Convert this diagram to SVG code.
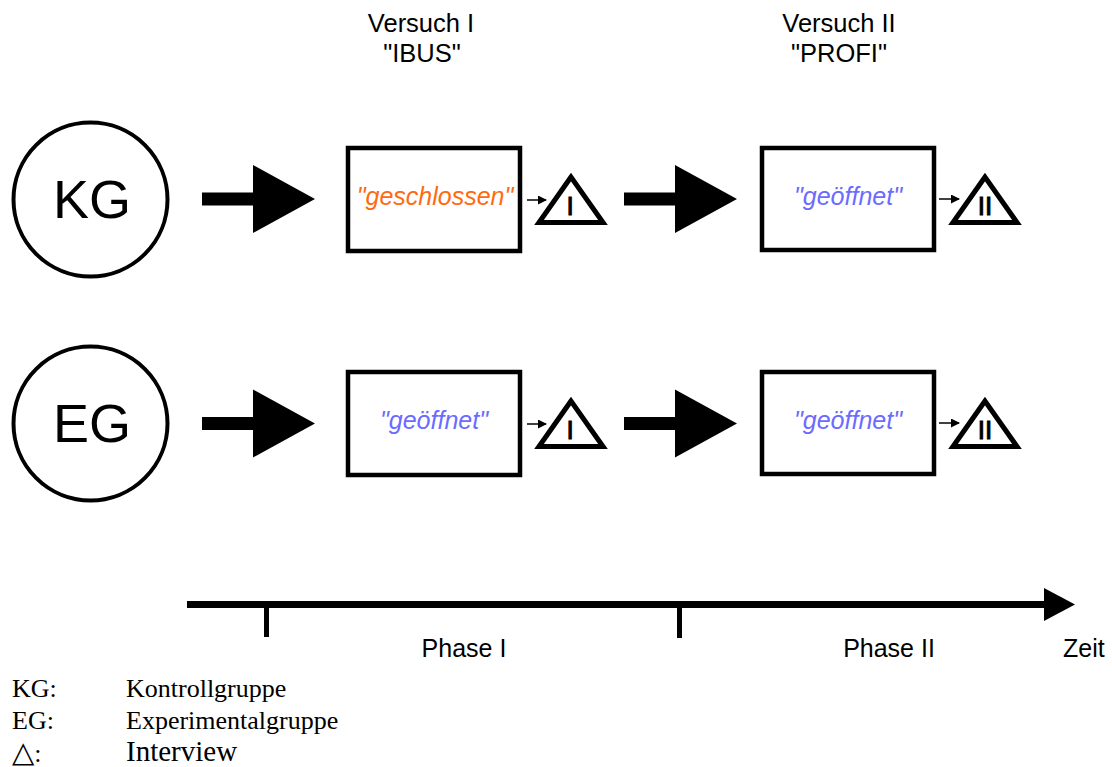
<svg xmlns="http://www.w3.org/2000/svg" width="1112" height="767" viewBox="0 0 1112 767">
  <defs>
    <marker id="tip" markerWidth="9" markerHeight="9" refX="8" refY="4.5" orient="auto" markerUnits="userSpaceOnUse">
      <path d="M0,0 L9,4.5 L0,9 Z" fill="#000"/>
    </marker>
    <!-- big block arrow, drawn with its left end at the origin -->
    <path id="block" d="M0,-6.5 L51,-6.5 L51,-34 L113,0 L51,34 L51,6.5 L0,6.5 Z" fill="#000"/>
  </defs>
  <style>
    .sans { font-family: "Liberation Sans", Arial, sans-serif; fill: #000; }
    .serif { font-family: "Liberation Serif", "Times New Roman", "DejaVu Serif", serif; fill: #000; }
    .group { fill: #fff; stroke: #000; stroke-width: 4; }
    .box { fill: #fff; stroke: #000; stroke-width: 4.5; }
    .tri { fill: #fff; stroke: #000; stroke-width: 5; stroke-linejoin: miter; }
    .num { stroke: #000; stroke-width: 1; }
    .closed { fill: #FF6A10; font-style: italic; }
    .open { fill: #6B6BFF; font-style: italic; }
    .tiny { stroke: #000; stroke-width: 1.5; fill: none; }
  </style>

  <!-- column headings -->
  <g id="head-1" class="sans" font-size="25.5" text-anchor="middle">
    <text x="421" y="32">Versuch I</text>
    <text x="422" y="62">"IBUS"</text>
  </g>
  <g id="head-2" class="sans" font-size="25.5" text-anchor="middle">
    <text x="839" y="32">Versuch II</text>
    <text x="839" y="62">"PROFI"</text>
  </g>

  <!-- groups -->
  <g id="kg">
    <circle class="group" cx="90.5" cy="199.5" r="77"/>
    <text class="sans" x="92" y="218" font-size="54" text-anchor="middle">KG</text>
  </g>
  <g id="eg">
    <circle class="group" cx="90.5" cy="423.5" r="77"/>
    <text class="sans" x="92" y="442" font-size="54" text-anchor="middle">EG</text>
  </g>

  <!-- treatment boxes -->
  <g id="kg-v1">
    <rect class="box" x="348" y="148" width="172" height="103"/>
    <text class="sans closed" x="435" y="205" font-size="25" text-anchor="middle">"geschlossen"</text>
  </g>
  <g id="kg-v2">
    <rect class="box" x="762" y="148" width="172" height="102"/>
    <text class="sans open" x="848" y="205" font-size="25" text-anchor="middle">"geöffnet"</text>
  </g>
  <g id="eg-v1">
    <rect class="box" x="348" y="372" width="172" height="103"/>
    <text class="sans open" x="434" y="429" font-size="25" text-anchor="middle">"geöffnet"</text>
  </g>
  <g id="eg-v2">
    <rect class="box" x="762" y="372" width="172" height="102"/>
    <text class="sans open" x="848" y="429" font-size="25" text-anchor="middle">"geöffnet"</text>
  </g>

  <!-- interviews -->
  <g id="kg-i1">
    <polygon class="tri" points="571,177 539,222.5 603,222.5"/>
    <text class="sans num" x="570" y="215" font-size="26" text-anchor="middle">I</text>
  </g>
  <g id="kg-i2">
    <polygon class="tri" points="985,177 953,222.5 1017,222.5"/>
    <text class="sans num" x="985" y="215" font-size="26" text-anchor="middle">II</text>
  </g>
  <g id="eg-i1">
    <polygon class="tri" points="571,401 539,446.5 603,446.5"/>
    <text class="sans num" x="570" y="439" font-size="26" text-anchor="middle">I</text>
  </g>
  <g id="eg-i2">
    <polygon class="tri" points="985,401 953,446.5 1017,446.5"/>
    <text class="sans num" x="985" y="439" font-size="26" text-anchor="middle">II</text>
  </g>

  <!-- connectors -->
  <g id="connectors">
    <use href="#block" x="202" y="199"/>
    <use href="#block" x="624" y="199"/>
    <use href="#block" x="202" y="423.5"/>
    <use href="#block" x="624" y="423.5"/>
    <line class="tiny" x1="527" y1="200" x2="546" y2="200" marker-end="url(#tip)"/>
    <line class="tiny" x1="939" y1="199" x2="959" y2="199" marker-end="url(#tip)"/>
    <line class="tiny" x1="527" y1="424" x2="546" y2="424" marker-end="url(#tip)"/>
    <line class="tiny" x1="939" y1="423" x2="959" y2="423" marker-end="url(#tip)"/>
  </g>

  <!-- time axis -->
  <g id="timeline">
    <rect x="187" y="601" width="860" height="7" fill="#000"/>
    <polygon points="1044,588 1075,604.5 1044,621" fill="#000"/>
    <rect x="264" y="604" width="5" height="33" fill="#000"/>
    <rect x="677" y="604" width="5" height="34" fill="#000"/>
    <text class="sans" x="464" y="657" font-size="25" text-anchor="middle">Phase I</text>
    <text class="sans" x="889" y="657" font-size="25" text-anchor="middle">Phase II</text>
    <text class="sans" x="1063" y="657" font-size="25">Zeit</text>
  </g>

  <!-- legend -->
  <g id="legend" class="serif">
    <text x="12" y="697" font-size="26">KG:</text>
    <text x="126" y="697" font-size="26">Kontrollgruppe</text>
    <text x="12" y="729" font-size="26">EG:</text>
    <text x="126" y="729" font-size="26">Experimentalgruppe</text>
    <text x="12" y="762" font-size="29" font-family="'DejaVu Sans', sans-serif">△<tspan font-size="26" font-family="'Liberation Serif', serif">:</tspan></text>
    <text x="126" y="761" font-size="29">Interview</text>
  </g>
</svg>
